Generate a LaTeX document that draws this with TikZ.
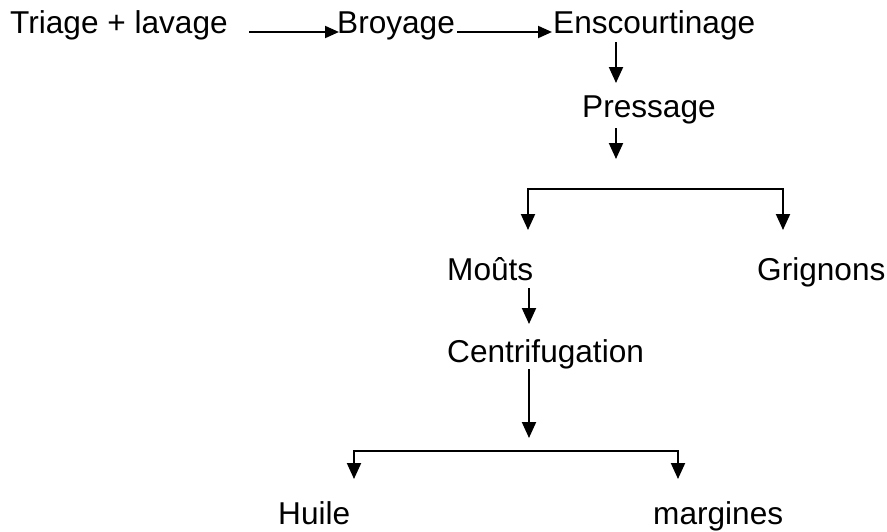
\documentclass[tikz,border=0pt]{standalone}
\usepackage{fontspec}
\setmainfont{Liberation Sans}
\usetikzlibrary{arrows.meta}
\begin{document}
\begin{tikzpicture}[x=1pt,y=-1pt,
  lbl/.style={anchor=base west,inner sep=0pt,font=\fontsize{31.6}{38}\selectfont},
  harr/.style={line width=2pt,-{Triangle[width=12pt,length=14pt]}},
  varr/.style={line width=2pt,-{Triangle[width=14pt,length=16pt]}},
  brline/.style={line width=2pt}]
\useasboundingbox (0,0) rectangle (887,531);
\node[lbl] (tri) at (10,33) {Triage + lavage};
\node[lbl] (bro) at (337,33) {Broyage};
\node[lbl] (ens) at (553,33) {Enscourtinage};
\node[lbl] (pre) at (582,117) {Pressage};
\node[lbl] (mou) at (447,280) {Moûts};
\node[lbl] (gri) at (757,280) {Grignons};
\node[lbl] (cen) at (447,362) {Centrifugation};
\node[lbl] (hui) at (278,524) {Huile};
\node[lbl] (mar) at (653,524) {margines};
% arrow coordinates
\coordinate (a1s) at (249,32); \coordinate (a1e) at (339,32);
\coordinate (a2s) at (457,32); \coordinate (a2e) at (552,32);
\coordinate (d1s) at (616,42); \coordinate (d1e) at (616,83);
\coordinate (d2s) at (616,128); \coordinate (d2e) at (616,159);
\coordinate (b1l) at (528,189); \coordinate (b1r) at (783,189);
\coordinate (b1le) at (528,230); \coordinate (b1re) at (783,230);
\coordinate (d3s) at (529,288); \coordinate (d3e) at (529,324);
\coordinate (d4s) at (529,369); \coordinate (d4e) at (529,438);
\coordinate (b2l) at (354,451); \coordinate (b2r) at (678,451);
\coordinate (b2le) at (354,479); \coordinate (b2re) at (678,479);
\draw[harr] (a1s) -- (a1e);
\draw[harr] (a2s) -- (a2e);
\draw[varr] (d1s) -- (d1e);
\draw[varr] (d2s) -- (d2e);
\draw[brline,line cap=rect] (b1l) -- (b1r);
\draw[varr] (b1l) -- (b1le);
\draw[varr] (b1r) -- (b1re);
\draw[varr] (d3s) -- (d3e);
\draw[varr] (d4s) -- (d4e);
\draw[brline,line cap=rect] (b2l) -- (b2r);
\draw[varr] (b2l) -- (b2le);
\draw[varr] (b2r) -- (b2re);
\end{tikzpicture}
\end{document}
